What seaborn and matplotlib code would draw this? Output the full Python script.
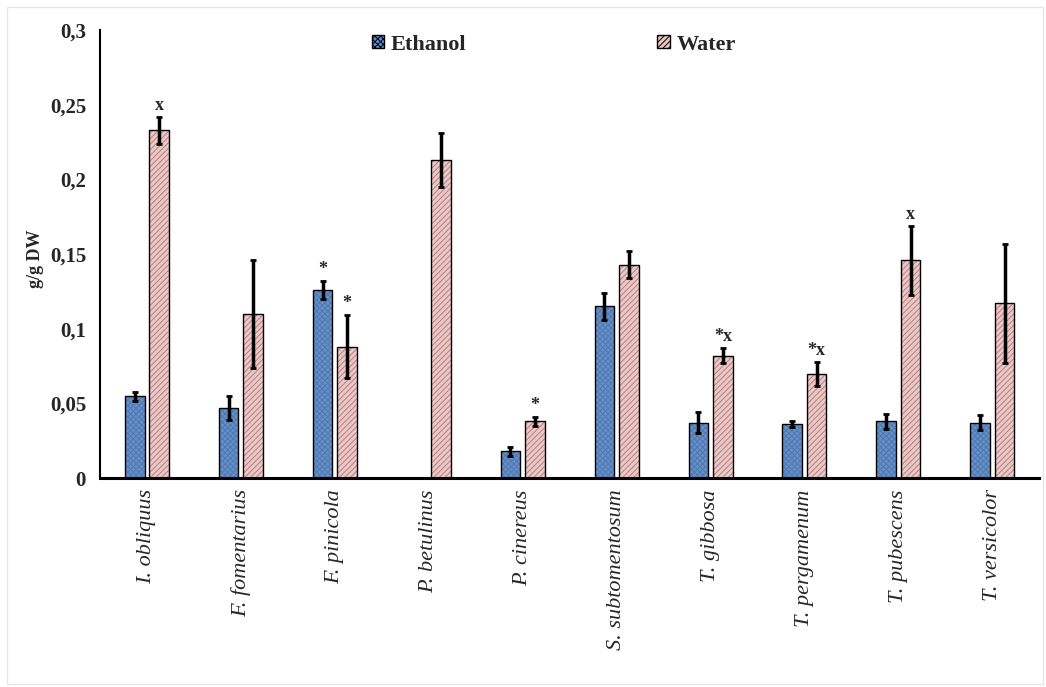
import numpy as np
import pandas as pd
import seaborn as sns
import matplotlib.pyplot as plt
from matplotlib.patches import Rectangle
from matplotlib.ticker import FuncFormatter

# data
species = ["I. obliquus", "F. fomentarius", "F. pinicola", "P. betulinus", "P. cinereus",
           "S. subtomentosum", "T. gibbosa", "T. pergamenum", "T. pubescens", "T. versicolor"]
ethanol = [0.055, 0.047, 0.126, 0.0, 0.018, 0.115, 0.037, 0.036, 0.038, 0.037]
ethanol_err = [0.003, 0.008, 0.006, 0.0, 0.003, 0.009, 0.007, 0.002, 0.005, 0.005]
water = [0.233, 0.110, 0.088, 0.213, 0.038, 0.143, 0.082, 0.070, 0.146, 0.117]
water_err = [0.009, 0.036, 0.021, 0.018, 0.003, 0.009, 0.005, 0.008, 0.023, 0.040]
ethanol_marks = ["", "", "*", "", "", "", "", "", "", ""]
water_marks = ["x", "", "*", "", "*", "", "*x", "*x", "x", ""]

df = pd.DataFrame({
    "species": species * 2,
    "value": ethanol + water,
    "err": ethanol_err + water_err,
    "mark": ethanol_marks + water_marks,
    "solvent": ["Ethanol"] * len(species) + ["Water"] * len(species),
})

sns.set_style("white")
plt.rcParams["font.family"] = ["Liberation Serif", "DejaVu Serif"]
plt.rcParams["hatch.linewidth"] = 0.7

fig = plt.figure(figsize=(10.46, 6.87), dpi=100)
ax = fig.add_axes([0.0956, 0.304, 0.898, 0.652])

face = {"Ethanol": "#5b8ed0", "Water": "#ecc5c4"}
hatch_col = {"Ethanol": "#4a78b8", "Water": "#c07a76"}
hatch = {"Ethanol": "xxxxxx", "Water": "//////"}

sns.barplot(data=df, x="species", y="value", hue="solvent", order=species,
            hue_order=["Ethanol", "Water"], palette=face, width=0.52, gap=0.2,
            errorbar=None, ax=ax, legend=False)

# patches come out in hue order: first all ethanol, then all water
bars = [p for p in ax.patches if isinstance(p, Rectangle)]
n = len(species)
for i, p in enumerate(bars[:2 * n]):
    solvent = "Ethanol" if i < n else "Water"
    row = df.iloc[i]
    p.set_hatch(hatch[solvent])
    p.set_edgecolor(hatch_col[solvent])
    p.set_linewidth(0)
    x = p.get_x() + p.get_width() / 2
    if row["value"] > 0:
        ax.add_patch(Rectangle((p.get_x(), 0), p.get_width(), p.get_height(),
                               facecolor="none", edgecolor="black", linewidth=1.0, zorder=3))
        ax.errorbar(x, row["value"], yerr=row["err"], color="black", elinewidth=2.5,
                    capsize=2.5, capthick=2, zorder=4)
    if row["mark"]:
        ax.text(x, row["value"] + row["err"] + 0.002, row["mark"], ha="center", va="bottom",
                fontsize=13, fontweight="bold")

ax.set_ylim(0, 0.3)
ax.set_xlim(-0.5, n - 0.5)
ax.set_yticks(np.arange(0, 0.301, 0.05))
ax.yaxis.set_major_formatter(FuncFormatter(lambda v, _: ("%g" % round(v, 3)).replace(".", ",")))
ax.tick_params(axis="y", labelsize=15, length=0, pad=10)
ax.tick_params(axis="x", labelsize=16, length=0, pad=8)
for lab in ax.get_yticklabels():
    lab.set_fontweight("bold")
ax.set_xticks(range(n))
ax.set_xticklabels(species, rotation=90, fontstyle="italic", va="top")

ax.set_xlabel("")
ax.set_ylabel("g/g DW", fontsize=13, fontweight="bold")
ax.yaxis.set_label_coords(-0.06, 0.49)

sns.despine(ax=ax)
ax.spines["left"].set_linewidth(1.5)
ax.spines["bottom"].set_linewidth(2.2)
ax.spines["left"].set_color("black")
ax.spines["bottom"].set_color("black")

handles = [Rectangle((0, 0), 1, 1, facecolor=face[s], edgecolor=hatch_col[s], hatch=hatch[s],
                     linewidth=0) for s in ["Ethanol", "Water"]]
leg = ax.legend(handles, ["Ethanol", "Water"], loc="upper center", bbox_to_anchor=(0.483, 1.035),
                ncol=2, frameon=False, handlelength=0.55, handleheight=0.55, handletextpad=0.3,
                columnspacing=8.6, prop={"size": 16, "weight": "bold"})
for h in leg.legend_handles:
    h.set_edgecolor("black")
    h.set_linewidth(1)

fig.patches.append(Rectangle((0.007, 0.005), 0.99, 0.985, transform=fig.transFigure,
                             facecolor="none", edgecolor="#e6e6e6", linewidth=1))

fig.savefig("out.png", dpi=100)
